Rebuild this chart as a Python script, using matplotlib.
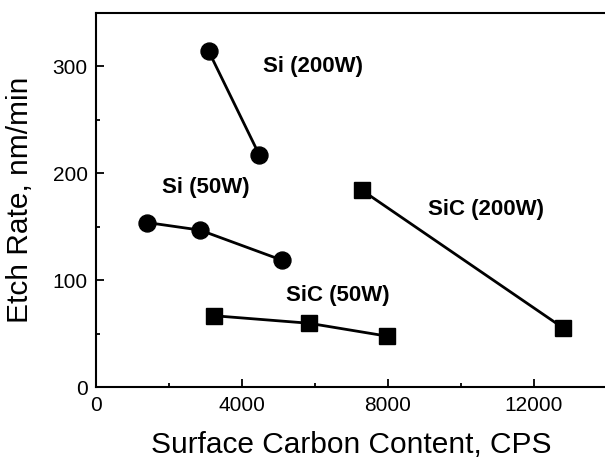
import matplotlib
matplotlib.use("Agg")
import matplotlib.pyplot as plt
from matplotlib.ticker import MultipleLocator

plt.rcParams['font.family'] = ['Liberation Sans', 'DejaVu Sans']

# Surface carbon content (CPS) and etch rate (nm/min) for each condition
si_200w_x = [3090, 4480]
si_200w_y = [314, 217]
si_50w_x = [1410, 2850, 5090]
si_50w_y = [154, 147, 119]
sic_50w_x = [3240, 5840, 7970]
sic_50w_y = [67, 60, 48]
sic_200w_x = [7300, 12790]
sic_200w_y = [184, 56]

fig = plt.figure(figsize=(6.05, 4.59), dpi=100)
ax = fig.add_axes([0.1587, 0.1558, 1.0027 - 0.1587, 0.9723 - 0.1558])

line_kw = dict(color='black', lw=2.0)
ax.plot(si_200w_x, si_200w_y, marker='o', ms=12.2, **line_kw)
ax.plot(si_50w_x, si_50w_y, marker='o', ms=12.2, **line_kw)
ax.plot(sic_50w_x, sic_50w_y, marker='s', ms=11, **line_kw)
ax.plot(sic_200w_x, sic_200w_y, marker='s', ms=11, **line_kw)

label_kw = dict(fontsize=16, fontweight='bold', va='center', ha='left')
ax.text(4580, 300, 'Si (200W)', **label_kw)
ax.text(1810, 187, 'Si (50W)', **label_kw)
ax.text(5220, 86, 'SiC (50W)', **label_kw)
ax.text(9100, 166, 'SiC (200W)', **label_kw)

ax.set_xlim(0, 14000)
ax.set_ylim(0, 350)
ax.xaxis.set_major_locator(MultipleLocator(4000))
ax.xaxis.set_minor_locator(MultipleLocator(2000))
ax.yaxis.set_major_locator(MultipleLocator(100))
ax.yaxis.set_minor_locator(MultipleLocator(50))

ax.tick_params(which='both', direction='in', width=1.3, labelsize=15,
               top=False, right=False)
ax.tick_params(which='major', length=6, pad=6)
ax.tick_params(which='minor', length=3)

for side in ('left', 'bottom', 'top'):
    ax.spines[side].set_linewidth(1.5)
ax.spines['right'].set_visible(False)

ax.set_xlabel('Surface Carbon Content, CPS', fontsize=21.5, labelpad=12)
ax.set_ylabel('Etch Rate, nm/min', fontsize=21.5, labelpad=13)

fig.savefig('out.png', dpi=100)
